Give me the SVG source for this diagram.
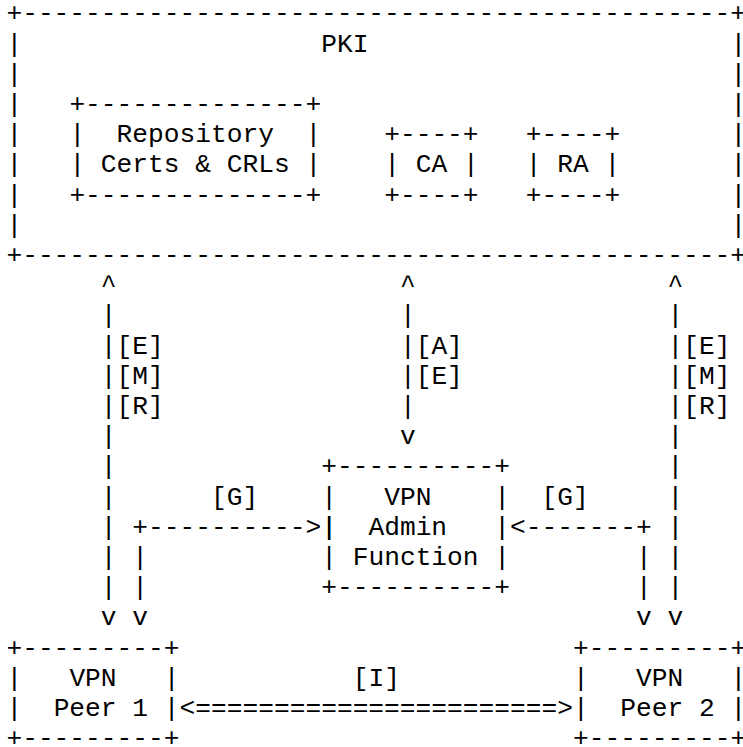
<svg xmlns="http://www.w3.org/2000/svg" width="743" height="747" viewBox="0 0 743 747">
<style>
text { font-family: "Liberation Mono", "Courier New", monospace; font-size: 26.23px; fill: #000; }
</style>
<rect width="743" height="747" fill="#fff"/>
<g id="pki">
<text x="6.43" y="21.3">+---------------------------------------------+</text>
<text x="6.43 730.47" y="51.5">||</text>
<text x="6.43 730.47" y="81.7">||</text>
<text x="6.43 730.47" y="111.9">||</text>
<text x="6.43 730.47" y="142.1">||</text>
<text x="6.43 730.47" y="172.3">||</text>
<text x="6.43 730.47" y="202.5">||</text>
<text x="6.43 730.47" y="232.7">||</text>
<text x="6.43" y="262.9">+---------------------------------------------+</text>
<text x="321.23" y="51.5">PKI</text>
</g>
<g id="repository">
<text x="69.39" y="111.9">+--------------+</text>
<text x="69.39 305.49" y="142.1">||</text>
<text x="116.61" y="142.1">Repository</text>
<text x="69.39 305.49" y="172.3">||</text>
<text x="100.87" y="172.3">Certs &amp; CRLs</text>
<text x="69.39" y="202.5">+--------------+</text>
</g>
<g id="ca">
<text x="384.19" y="142.1">+----+</text>
<text x="384.19 462.89" y="172.3">||</text>
<text x="415.67" y="172.3">CA</text>
<text x="384.19" y="202.5">+----+</text>
</g>
<g id="ra">
<text x="525.85" y="142.1">+----+</text>
<text x="525.85 604.55" y="172.3">||</text>
<text x="557.33" y="172.3">RA</text>
<text x="525.85" y="202.5">+----+</text>
</g>
<g id="admin">
<text x="321.23" y="474.3">+----------+</text>
<text x="321.23 494.37" y="504.5">||</text>
<text x="384.19" y="504.5">VPN</text>
<text x="321.23 494.37" y="534.7">||</text>
<text x="368.45" y="534.7">Admin</text>
<text x="321.23 494.37" y="564.9">||</text>
<text x="352.71" y="564.9">Function</text>
<text x="321.23" y="595.1">+----------+</text>
</g>
<g id="peer1">
<text x="6.43" y="655.5">+---------+</text>
<text x="6.43 163.83" y="685.7">||</text>
<text x="69.39" y="685.7">VPN</text>
<text x="6.43 163.83" y="715.9">||</text>
<text x="53.65" y="715.9">Peer 1</text>
<text x="6.43" y="746.1">+---------+</text>
</g>
<g id="peer2">
<text x="573.07" y="655.5">+---------+</text>
<text x="573.07 730.47" y="685.7">||</text>
<text x="636.03" y="685.7">VPN</text>
<text x="573.07 730.47" y="715.9">||</text>
<text x="620.29" y="715.9">Peer 2</text>
<text x="573.07" y="746.1">+---------+</text>
</g>
<g id="connectors">
<!-- left E/M/R -->
<text x="100.87 399.93 667.51" y="293.1">^^^</text>
<text x="100.87 399.93 667.51" y="323.3">|||</text>
<text x="100.87 399.93 667.51" y="353.5">|||</text>
<text x="100.87 399.93 667.51" y="383.7">|||</text>
<text x="100.87 399.93 667.51" y="413.9">|||</text>
<text x="100.87 667.51" y="444.1">||</text>
<text x="399.93" y="444.1">v</text>
<text x="100.87 667.51" y="474.3">||</text>
<text x="100.87 667.51" y="504.5">||</text>
<text x="100.87 667.51" y="534.7">||</text>
<text x="100.87 132.35 636.03 667.51" y="564.9">||||</text>
<text x="100.87 132.35 636.03 667.51" y="595.1">||||</text>
<text x="100.87 132.35 636.03 667.51" y="625.3">vvvv</text>
<text x="116.61" y="353.5">[E]</text>
<text x="116.61" y="383.7">[M]</text>
<text x="116.61" y="413.9">[R]</text>
<text x="415.67" y="353.5">[A]</text>
<text x="415.67" y="383.7">[E]</text>
<text x="683.25" y="353.5">[E]</text>
<text x="683.25" y="383.7">[M]</text>
<text x="683.25" y="413.9">[R]</text>
<text x="211.05" y="504.5">[G]</text>
<text x="132.35" y="534.7">+---------->|</text>
<text x="541.59" y="504.5">[G]</text>
<text x="510.11" y="534.7">&lt;-------+</text>
<text x="352.71" y="685.7">[I]</text>
<text x="179.57" y="715.9">&lt;=======================&gt;</text>
</g>
</svg>
